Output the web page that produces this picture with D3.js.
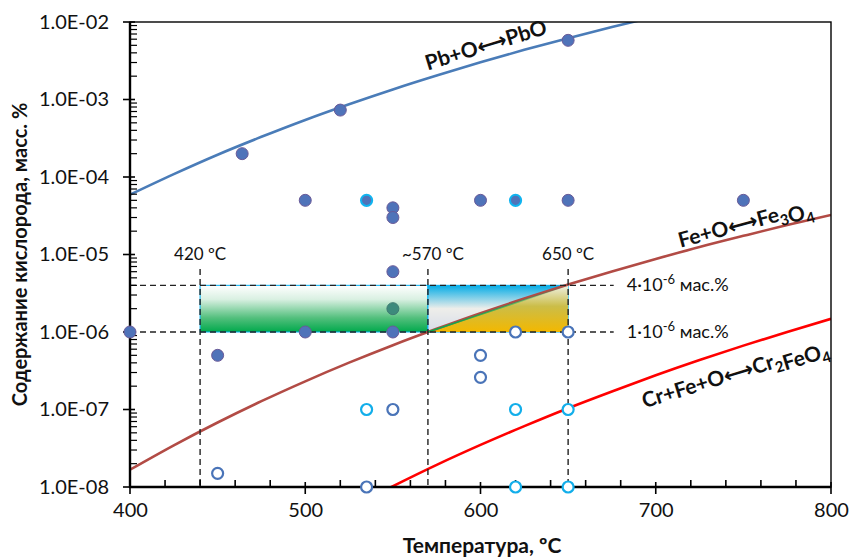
<!DOCTYPE html>
<html>
<head>
<meta charset="utf-8">
<script src="https://cdn.jsdelivr.net/npm/d3@7"></script>
<style>
  html, body { margin: 0; padding: 0; background: #ffffff; }
  svg { display: block; }
  text { font-family: Lato, "DejaVu Sans", sans-serif; fill: #111; }
</style>
</head>
<body>
<svg id="chart" width="849" height="558"></svg>
<script>
// ---- data ----
const xTicks = [400, 500, 600, 700, 800];
const yTicks = [1e-8, 1e-7, 1e-6, 1e-5, 1e-4, 1e-3, 1e-2];
const yTickLabels = ["1.0E-08", "1.0E-07", "1.0E-06", "1.0E-05", "1.0E-04", "1.0E-03", "1.0E-02"];

// equilibrium lines: temperature (°C) and oxygen content (mass %)
const pbT = [400, 425, 450, 475, 500, 525, 550, 575, 600, 625, 650, 675, 700];
const pbC = [5.92e-5, 1.09e-4, 1.94e-4, 3.30e-4, 5.45e-4, 8.69e-4, 1.35e-3, 2.04e-3, 3.02e-3, 4.37e-3, 6.18e-3, 8.61e-3, 1.18e-2];

const feT = [400, 425, 450, 475, 500, 525, 550, 575, 600, 625, 650, 675, 700, 725, 750, 775, 800];
const feC = [1.67e-8, 3.45e-8, 6.79e-8, 1.28e-7, 2.31e-7, 4.02e-7, 6.76e-7, 1.10e-6, 1.75e-6, 2.70e-6, 4.09e-6, 6.04e-6, 8.75e-6, 1.25e-5, 1.74e-5, 2.40e-5, 3.24e-5];

const crT = [540, 575, 600, 625, 650, 675, 700, 725, 750, 775, 800];
const crC = [7.9e-9, 1.93e-8, 3.49e-8, 6.11e-8, 1.04e-7, 1.71e-7, 2.76e-7, 4.34e-7, 6.67e-7, 1.00e-6, 1.48e-6];

// measured points
const filledT = [400, 464, 520, 650, 500, 550, 550, 600, 650, 750, 550, 500, 550, 450];
const filledC = [1e-6, 2e-4, 7.3e-4, 5.8e-3, 5e-5, 4e-5, 3e-5, 5e-5, 5e-5, 5e-5, 6e-6, 1e-6, 1e-6, 5e-7];
const ringT = [535, 620];
const ringC = [5e-5, 5e-5];
const innerT = [550];
const innerC = [2e-6];
const openBlueT = [450, 535, 550, 600, 600, 620, 650];
const openBlueC = [1.5e-8, 1e-8, 1e-7, 5e-7, 2.6e-7, 1e-6, 1e-6];
const openCyanT = [535, 620, 650, 620, 650];
const openCyanC = [1e-7, 1e-7, 1e-7, 1e-8, 1e-8];

// working window
const windowT = [440, 570, 650];
const windowC = [1e-6, 4e-6];
const guideTop = 6.5e-6;
const guideRight = 676;
const tempLabels = ["420 ºC", "~570 ºC", "650 ºC"];
const levelMant = ["4", "1"];

// ---- layout ----
const svg = d3.select("#chart");
const L = 130, R = 831, T = 22, B = 487;
const x = d3.scaleLinear().domain([400, 800]).range([L, R]);
const y = d3.scaleLog().domain([1e-8, 1e-2]).range([B, T]);

const defs = svg.append("defs");
defs.append("clipPath").attr("id", "plotClip")
  .append("rect").attr("x", L).attr("y", T).attr("width", R - L).attr("height", B - T);

function vGrad(id, stops) {
  const g = defs.append("linearGradient").attr("id", id)
    .attr("x1", 0).attr("y1", 0).attr("x2", 0).attr("y2", 1);
  stops.forEach(s => g.append("stop").attr("offset", s[0]).attr("stop-color", s[1]));
}
vGrad("gGreen", [[0, "#ffffff"], [0.3, "#d9f0e2"], [0.7, "#52bf7c"], [1, "#00a94c"]]);
vGrad("gBlue", [[0, "#05ace6"], [0.5, "#eeeeea"], [1, "#d6dcea"]]);
vGrad("gGold", [[0, "#eef0e4"], [0.45, "#cbbd48"], [1, "#f3b800"]]);
const hg = defs.append("linearGradient").attr("id", "gEdge")
  .attr("gradientUnits", "userSpaceOnUse")
  .attr("x1", x(windowT[1])).attr("y1", 0).attr("x2", x(windowT[2])).attr("y2", 0);
hg.append("stop").attr("offset", 0).attr("stop-color", "#00b050").attr("stop-opacity", 1);
hg.append("stop").attr("offset", 0.55).attr("stop-color", "#00b050").attr("stop-opacity", 0.6);
hg.append("stop").attr("offset", 1).attr("stop-color", "#00b050").attr("stop-opacity", 0);

// ---- working window (under the curves) ----
const win = svg.append("g");
win.append("rect")
  .attr("x", x(windowT[0])).attr("y", y(windowC[1]))
  .attr("width", x(windowT[1]) - x(windowT[0])).attr("height", y(windowC[0]) - y(windowC[1]))
  .attr("fill", "url(#gGreen)").attr("stroke", "#00b0f0").attr("stroke-width", 1);
win.append("rect")
  .attr("x", x(windowT[1])).attr("y", y(windowC[1]))
  .attr("width", x(windowT[2]) - x(windowT[1])).attr("height", y(windowC[0]) - y(windowC[1]))
  .attr("fill", "url(#gBlue)").attr("stroke", "#00b0f0").attr("stroke-width", 1);
const tri = [[windowT[1], windowC[0]], [windowT[2], windowC[0]], [windowT[2], windowC[1]]];
win.append("path")
  .attr("d", "M" + tri.map(p => [x(p[0]), y(p[1])].join(",")).join("L") + "Z")
  .attr("fill", "url(#gGold)").attr("stroke", "none");

// ---- curves ----
const line = d3.line().curve(d3.curveMonotoneX);
const curves = svg.append("g").attr("clip-path", "url(#plotClip)");
function drawCurve(ts, cs, color) {
  curves.append("path")
    .attr("d", line(ts.map((t, i) => [x(t), y(cs[i])])))
    .attr("fill", "none").attr("stroke", color).attr("stroke-width", 2.6);
}
drawCurve(pbT, pbC, "#4a7cb8");
drawCurve(feT, feC, "#b24b45");
drawCurve(crT, crC, "#ff0000");

// green edge of the lower triangle
svg.append("line")
  .attr("x1", x(windowT[1])).attr("y1", y(windowC[0]))
  .attr("x2", x(windowT[2])).attr("y2", y(windowC[1]))
  .attr("stroke", "url(#gEdge)").attr("stroke-width", 1.6);

// ---- dashed guides ----
const guides = svg.append("g").attr("stroke", "#222").attr("stroke-width", 1.4)
  .attr("stroke-dasharray", "6,4").attr("fill", "none");
windowT.forEach(t => guides.append("line")
  .attr("x1", x(t)).attr("x2", x(t)).attr("y1", y(guideTop)).attr("y2", B));
windowC.forEach(c => guides.append("line")
  .attr("x1", L).attr("x2", x(guideRight)).attr("y1", y(c)).attr("y2", y(c)));

// ---- frame and axes ----
svg.append("rect").attr("x", L).attr("y", T).attr("width", R - L).attr("height", B - T)
  .attr("fill", "none").attr("stroke", "#000").attr("stroke-width", 1.4);

const ax = svg.append("g").attr("stroke", "#000");
ax.append("line").attr("x1", L).attr("x2", L).attr("y1", T).attr("y2", B + 1).attr("stroke-width", 2.4);
ax.append("line").attr("x1", L - 1).attr("x2", R).attr("y1", B).attr("y2", B).attr("stroke-width", 2.4);

// x ticks: majors cross the axis, minors inside
d3.range(400, 801, 20).forEach(t => {
  const major = xTicks.includes(t);
  ax.append("line").attr("x1", x(t)).attr("x2", x(t))
    .attr("y1", major ? B + 7 : B).attr("y2", major ? B - 5 : B - 7).attr("stroke-width", 1.6);
});
// y ticks: decades cross, log minors inside
yTicks.forEach((v, i) => {
  ax.append("line").attr("x1", L - 7).attr("x2", L + 5).attr("y1", y(v)).attr("y2", y(v)).attr("stroke-width", 1.6);
  if (i < yTicks.length - 1) {
    d3.range(2, 10).forEach(m => {
      ax.append("line").attr("x1", L).attr("x2", L + 7)
        .attr("y1", y(v * m)).attr("y2", y(v * m)).attr("stroke-width", 1.2);
    });
  }
});

// tick labels through the library's axes
const xAxis = svg.append("g").attr("transform", `translate(0,${B})`)
  .call(d3.axisBottom(x).tickValues(xTicks).tickSize(0).tickPadding(16).tickFormat(d3.format("d")));
const yAxis = svg.append("g").attr("transform", `translate(${L},0)`)
  .call(d3.axisLeft(y).tickValues(yTicks).tickSize(0).tickPadding(21)
    .tickFormat(d => yTickLabels[yTicks.indexOf(d)]));
[xAxis, yAxis].forEach(a => {
  a.select(".domain").remove();
  a.selectAll("text").style("font-size", "20px").style("font-family", "Lato, 'DejaVu Sans', sans-serif").attr("fill", "#111");
});

// ---- points ----
const pts = svg.append("g");
function dots(ts, cs, fill, stroke, sw, r) {
  pts.selectAll(null).data(ts.map((t, i) => [t, cs[i]])).enter().append("circle")
    .attr("cx", d => x(d[0])).attr("cy", d => y(d[1])).attr("r", r)
    .attr("fill", fill).attr("stroke", stroke).attr("stroke-width", sw);
}
dots(filledT, filledC, "#4f73b9", "#6a5a98", 1, 6);
dots(ringT, ringC, "#4f73b9", "#10b4f0", 2, 5.6);
dots(innerT, innerC, "#3d8a7c", "#3f7a72", 1, 6);
dots(openBlueT, openBlueC, "#ffffff", "#4a74b8", 2.2, 5.5);
dots(openCyanT, openCyanC, "#ffffff", "#12aeea", 2.2, 5.5);

// ---- annotations ----
const ann = svg.append("g");
windowT.forEach((t, i) => {
  ann.append("text").attr("x", x(t) + (i === 1 ? 5 : 0)).attr("y", 260)
    .attr("text-anchor", "middle").style("font-size", "17px").text(tempLabels[i]);
});
windowC.slice().reverse().forEach((c, i) => {
  const tx = ann.append("text").attr("x", x(guideRight) + 13).attr("y", y(c) + 6)
    .style("font-size", "18px");
  tx.append("tspan").text(levelMant[i] + "·10");
  tx.append("tspan").attr("dy", -7).style("font-size", "13px").text("-6");
  tx.append("tspan").attr("dy", 7).text(" мас.%");
});

function reaction(parts, cx, cy, angle) {
  const t = ann.append("text").attr("text-anchor", "middle")
    .attr("transform", `translate(${cx},${cy}) rotate(${angle})`)
    .style("font-size", "21px").style("font-weight", "bold");
  parts.forEach(p => {
    if (typeof p === "string") t.append("tspan").text(p);
    else {
      t.append("tspan").attr("dy", 5).style("font-size", "15px").text(p.sub);
      t.append("tspan").attr("dy", -5).text("");
    }
  });
}
reaction(["Pb+O⟷PbO"], 488, 52, -17);
reaction(["Fe+O⟷Fe", {sub: "3"}, "O", {sub: "4"}], 747, 230, -15);
reaction(["Cr+Fe+O⟷Cr", {sub: "2"}, "FeO", {sub: "4"}], 737, 380, -17);

// axis titles
svg.append("text").attr("x", 482).attr("y", 553).attr("text-anchor", "middle")
  .style("font-size", "21px").style("font-weight", "bold").text("Температура, ºC");
svg.append("text").attr("transform", `translate(27,${(T + B) / 2}) rotate(-90)`)
  .attr("text-anchor", "middle").style("font-size", "20px").style("font-weight", "bold")
  .text("Содержание кислорода, масс. %");
</script>
</body>
</html>
